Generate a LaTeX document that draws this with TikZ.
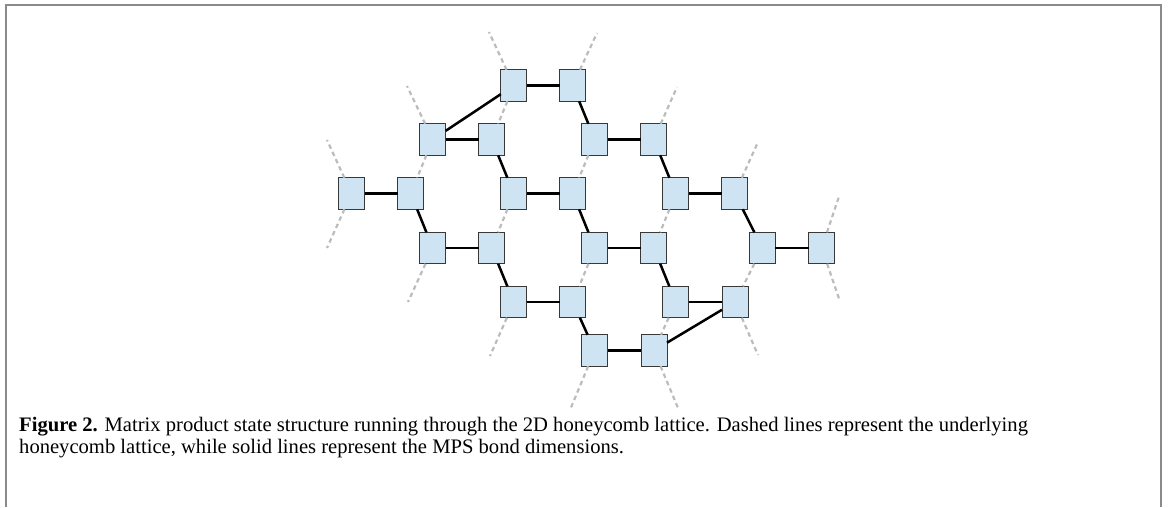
\documentclass[tikz,border=0pt]{standalone}
\usepackage{fontspec}
\setmainfont{Liberation Serif}
\begin{document}
\begin{tikzpicture}[x=1pt,y=-1pt,
  site/.style={draw=black!78,line width=0.9pt,fill=sitefill,minimum width=26pt,minimum height=31.5pt,inner sep=0pt,outer sep=0pt},
  bond/.style={line width=2.5pt,black},
  lat/.style={line width=2.2pt,latgray,dash pattern=on 4.5pt off 3.5pt},
  frameline/.style={line width=2pt,framegray},
  captext/.style={anchor=base west,inner sep=0pt,font=\fontsize{20.6}{22}\selectfont}]
\definecolor{sitefill}{RGB}{207,228,242}
\definecolor{latgray}{RGB}{188,188,188}
\definecolor{framegray}{RGB}{138,138,138}
\useasboundingbox (0,0) rectangle (1168,507);
\draw[frameline] (6,507) -- (6,5) -- (1161,5) -- (1161,507);
% sites
\node[site] (r1a) at (513.8,85.5) {};
\node[site] (r1b) at (572.7,85.5) {};
\node[site] (r2a) at (432.7,139.5) {};
\node[site] (r2b) at (491.7,139.5) {};
\node[site] (r2c) at (594.8,139.5) {};
\node[site] (r2d) at (653.8,139.5) {};
\node[site] (r3a) at (351.5,193.5) {};
\node[site] (r3b) at (410.8,193.5) {};
\node[site] (r3c) at (513.8,193.5) {};
\node[site] (r3d) at (572.7,193.5) {};
\node[site] (r3e) at (675.8,193.5) {};
\node[site] (r3f) at (734.8,193.5) {};
\node[site] (r4a) at (432.7,248) {};
\node[site] (r4b) at (491.7,248) {};
\node[site] (r4c) at (594.8,248) {};
\node[site] (r4d) at (653.8,248) {};
\node[site] (r4e) at (762.3,248) {};
\node[site] (r4f) at (821.7,248) {};
\node[site] (r5a) at (513.8,302) {};
\node[site] (r5b) at (572.8,302) {};
\node[site] (r5c) at (675.7,302) {};
\node[site] (r5d) at (735,302) {};
\node[site] (r6a) at (594.7,350.5) {};
\node[site] (r6b) at (654,350.5) {};
% free ends of the lattice
\coordinate (e1a) at (489,32);
\coordinate (e1b) at (597,33);
\coordinate (e2a) at (407,86);
\coordinate (e2d) at (677,87);
\coordinate (e3au) at (327,140);
\coordinate (e3ad) at (327,248);
\coordinate (e3f) at (758,142);
\coordinate (e4a) at (408,302);
\coordinate (e4fu) at (839.5,195);
\coordinate (e4fd) at (839.5,300);
\coordinate (e5a) at (490,356);
\coordinate (e5d) at (758,355);
\coordinate (e6a) at (570,410);
\coordinate (e6b) at (678,408);
% dashed lattice
\foreach \a/\b in {r1a/e1a,r1b/e1b,r2a/e2a,r2d/e2d,r3a/e3au,r3a/e3ad,r3f/e3f,r4a/e4a,r4f/e4fu,r4f/e4fd,r5a/e5a,r5d/e5d,r6a/e6a,r6b/e6b,
  r1a/r2b,r2a/r3b,r2c/r3d,r3c/r4b,r3e/r4d,r4c/r5b,r4e/r5d,r5c/r6b}
  \draw[lat] (\a) -- (\b);
% MPS bonds
\foreach \a/\b in {r1a/r1b,r2a/r2b,r2c/r2d,r3a/r3b,r3c/r3d,r3e/r3f,r4a/r4b,r4c/r4d,r4e/r4f,r5a/r5b,r5c/r5d,r6a/r6b,
  r1a/r2a,r1b/r2c,r2b/r3c,r2d/r3e,r3b/r4a,r3d/r4c,r3f/r4e,r4b/r5a,r4d/r5c,r5b/r6a,r5d/r6b}
  \draw[bond] (\a) -- (\b);
% caption
\node[captext] (cap1) at (19,431)
  {\textbf{Figure 2.} Matrix product state structure running through the 2D honeycomb lattice. Dashed lines represent the underlying};
\node[captext] (cap2) at (19,453)
  {honeycomb lattice, while solid lines represent the MPS bond dimensions.};
\end{tikzpicture}
\end{document}
